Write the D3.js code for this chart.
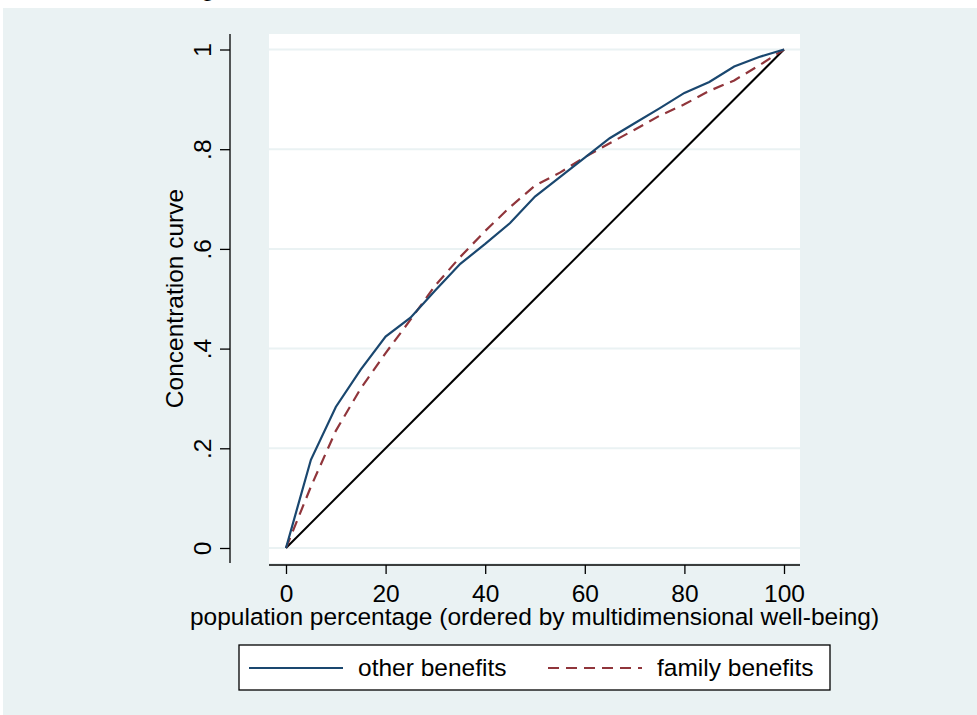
<!DOCTYPE html>
<html>
<head>
<meta charset="utf-8">
<script src="https://cdn.jsdelivr.net/npm/d3@7"></script>
<style>
  html, body { margin: 0; padding: 0; background: #ffffff; }
  svg { display: block; font-family: "Liberation Sans", Arial, sans-serif; }
</style>
</head>
<body>
<div id="chart"></div>
<script>
// ---------------------------------------------------
// DATA — concentration curves
// ---------------------------------------------------
const popPct = [0, 5, 10, 15, 20, 25, 30, 35, 40, 45, 50, 55, 60, 65, 70, 75, 80, 85, 90, 95, 100];
const otherBenefits = [0, 0.177, 0.283, 0.358, 0.424, 0.462, 0.517, 0.570, 0.610, 0.652, 0.705, 0.744, 0.783, 0.822, 0.852, 0.882, 0.913, 0.935, 0.966, 0.985, 1];
const familyBenefits = [0, 0.123, 0.235, 0.320, 0.391, 0.458, 0.527, 0.584, 0.636, 0.684, 0.727, 0.753, 0.784, 0.812, 0.839, 0.867, 0.890, 0.917, 0.938, 0.968, 1];
const equalityLine = [0, 1]; // at popPct 0 and 100

const xTicks = [0, 20, 40, 60, 80, 100];
const yTicks = [0, 0.2, 0.4, 0.6, 0.8, 1];
const yTickLabels = ["0", ".2", ".4", ".6", ".8", "1"];

const seriesNames = ["other benefits", "family benefits"];

// ---------------------------------------------------
// DIMENSIONS
// ---------------------------------------------------
const width = 977;
const height = 715;
const plot = { left: 269, right: 800, top: 34, bottom: 563 };

const bg = "#eaf2f3";
const blue = "#1a476f";
const red = "#90353b";
const fontSize = 24.5;
const dash = "11,7";

const svg = d3.select("#chart")
  .append("svg")
  .attr("width", width)
  .attr("height", height);

// graph region
svg.append("rect")
  .attr("x", 3).attr("y", 8)
  .attr("width", width - 3).attr("height", height - 8)
  .attr("fill", bg);

// clipped remnant of the title above the graph (cut off in the original too)
svg.append("text")
  .attr("x", 201).attr("y", -4)
  .attr("font-size", fontSize)
  .text("g,");

// plot region
svg.append("rect")
  .attr("x", plot.left).attr("y", plot.top)
  .attr("width", plot.right - plot.left).attr("height", plot.bottom - plot.top)
  .attr("fill", "#ffffff");

// ---------------------------------------------------
// SCALES
// ---------------------------------------------------
const x = d3.scaleLinear().domain([0, 100]).range([286, 784]);
const y = d3.scaleLinear().domain([0, 1]).range([548, 49.5]);

// gridlines
svg.append("g")
  .selectAll("line")
  .data(yTicks)
  .join("line")
  .attr("x1", plot.left).attr("x2", plot.right)
  .attr("y1", d => y(d)).attr("y2", d => y(d))
  .attr("stroke", bg)
  .attr("stroke-width", 2);

// ---------------------------------------------------
// AXES
// ---------------------------------------------------
const yAxisX = 230;
const yAxis = svg.append("g")
  .attr("transform", `translate(${yAxisX},0)`)
  .call(d3.axisLeft(y)
    .tickValues(yTicks)
    .tickFormat((d, i) => yTickLabels[i])
    .tickSize(10)
    .tickSizeOuter(0));
yAxis.select(".domain").remove();
yAxis.selectAll(".tick line").attr("stroke", "#000").attr("stroke-width", 1.3);
yAxis.selectAll(".tick text")
  .attr("transform", "rotate(-90)")
  .attr("x", 0).attr("y", -19).attr("dy", 0)
  .attr("text-anchor", "middle")
  .attr("font-size", fontSize)
  .attr("font-family", null)
  .attr("fill", "#000");
yAxis.append("line")
  .attr("x1", 0).attr("x2", 0)
  .attr("y1", plot.top).attr("y2", plot.bottom)
  .attr("stroke", "#000").attr("stroke-width", 1.3);

const xAxisY = 565;
const xAxis = svg.append("g")
  .attr("transform", `translate(0,${xAxisY})`)
  .call(d3.axisBottom(x)
    .tickValues(xTicks)
    .tickFormat(d3.format("d"))
    .tickSize(9)
    .tickSizeOuter(0));
xAxis.select(".domain").remove();
xAxis.selectAll(".tick line").attr("stroke", "#000").attr("stroke-width", 1.3);
xAxis.selectAll(".tick text")
  .attr("y", 37).attr("dy", 0)
  .attr("font-size", fontSize)
  .attr("font-family", null)
  .attr("fill", "#000");
xAxis.append("line")
  .attr("x1", plot.left).attr("x2", plot.right)
  .attr("y1", 0).attr("y2", 0)
  .attr("stroke", "#000").attr("stroke-width", 1.3);

// axis titles
svg.append("text")
  .attr("transform", `translate(183,${(plot.top + plot.bottom) / 2}) rotate(-90)`)
  .attr("text-anchor", "middle")
  .attr("font-size", fontSize)
  .text("Concentration curve");

svg.append("text")
  .attr("x", (plot.left + plot.right) / 2)
  .attr("y", 625)
  .attr("text-anchor", "middle")
  .attr("font-size", fontSize)
  .text("population percentage (ordered by multidimensional well-being)");

// ---------------------------------------------------
// LINES
// ---------------------------------------------------
const line = d3.line()
  .x(d => x(d[0]))
  .y(d => y(d[1]));

svg.append("path")
  .datum([[0, equalityLine[0]], [100, equalityLine[1]]])
  .attr("fill", "none")
  .attr("stroke", "#000")
  .attr("stroke-width", 2)
  .attr("d", line);

svg.append("path")
  .datum(popPct.map((p, i) => [p, familyBenefits[i]]))
  .attr("fill", "none")
  .attr("stroke", red)
  .attr("stroke-width", 2.2)
  .attr("stroke-dasharray", dash)
  .attr("d", line);

svg.append("path")
  .datum(popPct.map((p, i) => [p, otherBenefits[i]]))
  .attr("fill", "none")
  .attr("stroke", blue)
  .attr("stroke-width", 2.2)
  .attr("d", line);

// ---------------------------------------------------
// LEGEND
// ---------------------------------------------------
const legend = svg.append("g").attr("transform", "translate(239,645)");
legend.append("rect")
  .attr("width", 591).attr("height", 45)
  .attr("fill", "#fff")
  .attr("stroke", "#000")
  .attr("stroke-width", 1.3);

const legendItems = [
  { name: seriesNames[0], color: blue, dash: null, x0: 10 },
  { name: seriesNames[1], color: red, dash: dash, x0: 309 }
];
const item = legend.selectAll(".legend-item")
  .data(legendItems)
  .join("g")
  .attr("class", "legend-item")
  .attr("transform", d => `translate(${d.x0},0)`);
item.append("line")
  .attr("x1", 0).attr("x2", 94)
  .attr("y1", 23).attr("y2", 23)
  .attr("stroke", d => d.color)
  .attr("stroke-width", 2.2)
  .attr("stroke-dasharray", d => d.dash);
item.append("text")
  .attr("x", 109).attr("y", 31)
  .attr("font-size", fontSize)
  .text(d => d.name);
</script>
</body>
</html>
